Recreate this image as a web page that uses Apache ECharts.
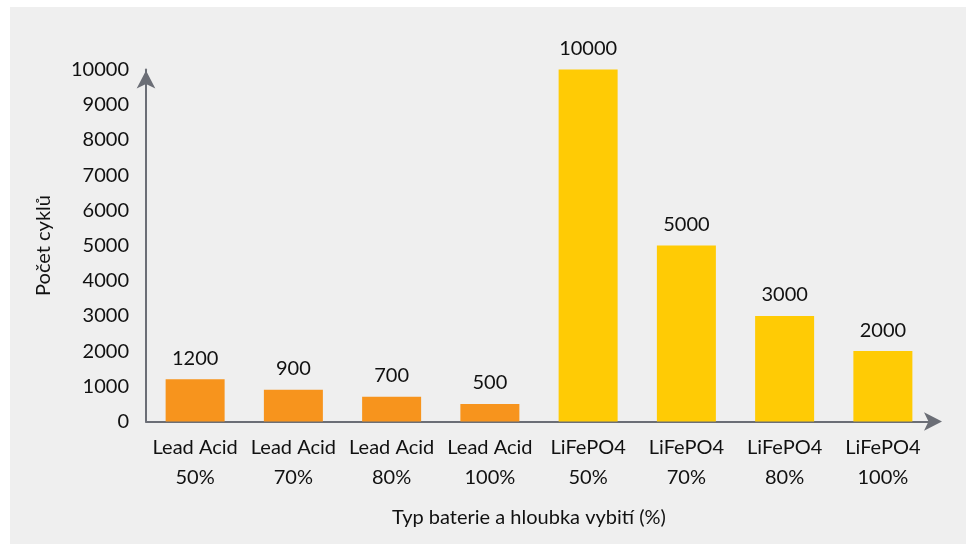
<!DOCTYPE html>
<html>
<head>
<meta charset="utf-8">
<script src="https://cdn.jsdelivr.net/npm/echarts@6/dist/echarts.min.js"></script>
<style>
html,body{margin:0;padding:0;background:#ffffff;width:966px;height:544px;overflow:hidden;}
#chart{position:absolute;left:10px;top:7px;width:956px;height:537px;}
</style>
</head>
<body>
<div id="chart"></div>
<script>
const categories = ['Lead Acid\n50%','Lead Acid\n70%','Lead Acid\n80%','Lead Acid\n100%','LiFePO4\n50%','LiFePO4\n70%','LiFePO4\n80%','LiFePO4\n100%'];
const cycles = [1200, 900, 700, 500, 10000, 5000, 3000, 2000];
const batteryType = ['lead','lead','lead','lead','lfp','lfp','lfp','lfp'];
const yTicks = [0,1000,2000,3000,4000,5000,6000,7000,8000,9000,10000];
const xTitle = 'Typ baterie a hloubka vybití (%)';
const yTitle = 'Počet cyklů';

const colors = {lead:'#f7941d', lfp:'#ffcb05'};
const font = 'Lato';
const fs = 20;
const txt = '#111111';
const axisColor = '#6b6e76';

const chart = echarts.init(document.getElementById('chart'));
chart.setOption({
  backgroundColor:'#efefef',
  animation:false,
  textStyle:{fontFamily:font},
  grid:{left:136, right:34, top:62.5, bottom:122.5, containLabel:false},
  xAxis:{
    type:'category',
    data:categories,
    name:xTitle,
    nameLocation:'middle',
    nameGap:86,
    nameTextStyle:{fontFamily:font, fontSize:fs, color:txt, padding:[0,20,0,0]},
    axisLine:{show:true, symbol:['none','arrow'], symbolSize:[14,18], symbolOffset:[0,10], lineStyle:{color:axisColor, width:2}},
    axisTick:{show:false},
    axisLabel:{fontFamily:font, fontSize:fs, color:txt, lineHeight:30, margin:11, interval:0},
    splitLine:{show:false}
  },
  yAxis:{
    type:'value',
    min:yTicks[0],
    max:yTicks[yTicks.length-1],
    interval:yTicks[1]-yTicks[0],
    name:yTitle,
    nameLocation:'middle',
    nameGap:92,
    nameTextStyle:{fontFamily:font, fontSize:fs, color:txt},
    axisLine:{show:true, symbol:['none','arrow'], symbolSize:[14,18], symbolOffset:[0,-1], lineStyle:{color:axisColor, width:2}},
    axisTick:{show:false},
    axisLabel:{fontFamily:font, fontSize:fs, color:txt, margin:17, formatter:v=>String(v)},
    splitLine:{show:false}
  },
  series:[{
    type:'bar',
    barWidth:59,
    data:cycles.map((v,i)=>({value:v, itemStyle:{color:colors[batteryType[i]]}})),
    label:{show:true, position:'top', distance:11, fontFamily:font, fontSize:fs, color:txt}
  }]
});
</script>
</body>
</html>
